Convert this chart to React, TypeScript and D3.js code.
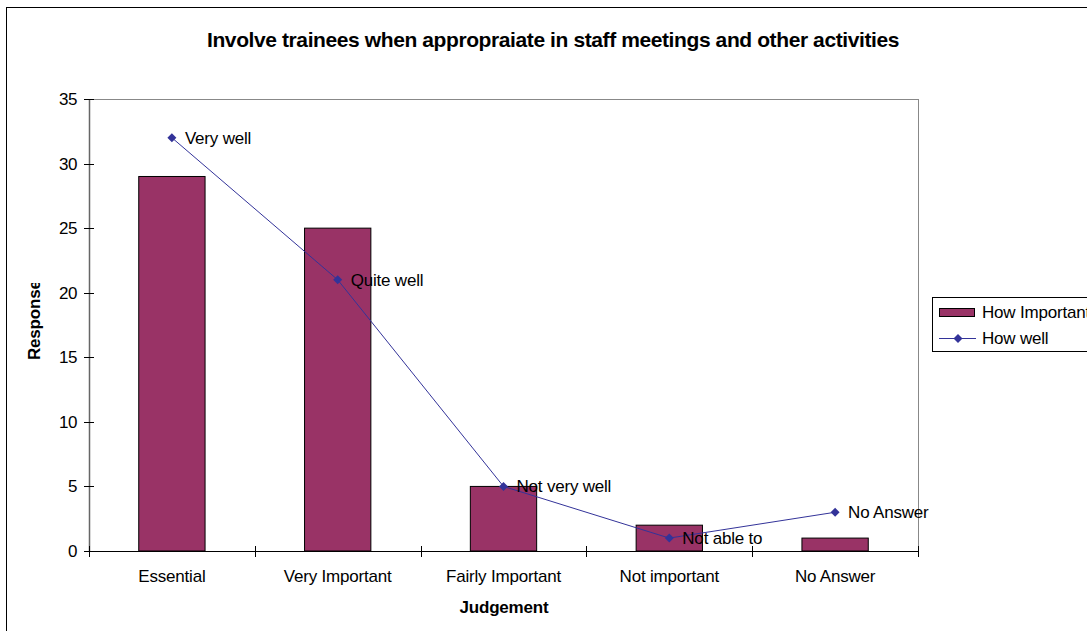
import React from "react";
import * as d3 from "d3";

const categories = ["Essential", "Very Important", "Fairly Important", "Not important", "No Answer"];
const howImportant = [29, 25, 5, 2, 1];
const howWell = [32, 21, 5, 1, 3];
const pointLabels = ["Very well", "Quite well", "Not very well", "Not able to", "No Answer"];
const yTicks = [0, 5, 10, 15, 20, 25, 30, 35];

const W = 1087;
const H = 631;
const plot = { left: 89, right: 918, top: 99, bottom: 551 };
const FONT = "Liberation Sans, Arial, sans-serif";

export default function App() {
  const x = d3.scaleBand<string>().domain(categories).range([plot.left, plot.right]).paddingInner(0).paddingOuter(0);
  const y = d3.scaleLinear().domain([0, 35]).range([plot.bottom, plot.top]);
  const bw = x.bandwidth() * 0.4;
  const cx = (c: string) => (x(c) as number) + x.bandwidth() / 2;
  const line = d3.line<number>().x((_, i) => cx(categories[i])).y((d) => y(d));
  const diamond = "M0,-4.5L4.5,0L0,4.5L-4.5,0Z";
  const catEdges = categories.map((c) => x(c) as number).concat([plot.right]);

  return (
    <svg width={W} height={H} style={{ position: "absolute", left: 0, top: 0, background: "#fff" }} fontFamily={FONT}>
      <rect x={6.5} y={7.5} width={W + 10} height={H + 10} fill="#fff" stroke="#000" strokeWidth={1} />
      <text x={553} y={47} textAnchor="middle" fontSize={21} fontWeight="bold" letterSpacing={-0.4}>
        Involve trainees when appropraiate in staff meetings and other activities
      </text>
      {/* plot frame */}
      <line x1={plot.left} x2={plot.right} y1={plot.top + 0.5} y2={plot.top + 0.5} stroke="#888" />
      <line x1={plot.right + 0.5} x2={plot.right + 0.5} y1={plot.top} y2={plot.bottom} stroke="#888" />
      {/* y axis */}
      <line x1={plot.left + 0.5} x2={plot.left + 0.5} y1={plot.top} y2={plot.bottom} stroke="#666" strokeWidth={1.5} />
      {yTicks.map((t) => (
        <g key={t}>
          <line x1={plot.left - 5} x2={plot.left + 5} y1={Math.round(y(t)) + 0.5} y2={Math.round(y(t)) + 0.5} stroke="#000" />
          <text x={plot.left - 12} y={y(t)} dy="0.35em" textAnchor="end" fontSize={17} letterSpacing={-0.5}>
            {t}
          </text>
        </g>
      ))}
      {/* bars */}
      {howImportant.map((v, i) => (
        <rect
          key={i}
          x={cx(categories[i]) - bw / 2}
          y={y(v)}
          width={bw}
          height={y(0) - y(v)}
          fill="#993366"
          stroke="#000"
          strokeWidth={1}
        />
      ))}
      {/* x axis */}
      <line x1={plot.left} x2={plot.right} y1={plot.bottom + 0.5} y2={plot.bottom + 0.5} stroke="#000" />
      {catEdges.map((e, i) => (
        <line key={i} x1={Math.round(e) + 0.5} x2={Math.round(e) + 0.5} y1={plot.bottom - 5} y2={plot.bottom + 6} stroke="#000" />
      ))}
      {categories.map((c) => (
        <text key={c} x={cx(c)} y={582} textAnchor="middle" fontSize={17} letterSpacing={-0.2}>
          {c}
        </text>
      ))}
      {/* line series */}
      <path d={line(howWell) as string} fill="none" stroke="#333399" strokeWidth={1} />
      {howWell.map((v, i) => (
        <g key={i}>
          <path d={diamond} transform={`translate(${cx(categories[i])},${y(v)})`} fill="#333399" />
          <text x={cx(categories[i]) + 13} y={y(v)} dy="0.35em" fontSize={17} letterSpacing={-0.2}>
            {pointLabels[i]}
          </text>
        </g>
      ))}
      {/* axis titles */}
      <text x={504} y={613} textAnchor="middle" fontSize={17} fontWeight="bold" letterSpacing={-0.2}>
        Judgement
      </text>
      <defs>
        <clipPath id="yclip">
          <rect x={15} y={283} width={35} height={90} />
        </clipPath>
      </defs>
      <g clipPath="url(#yclip)">
        <text transform="translate(40,360) rotate(-90)" textAnchor="start" fontSize={17} fontWeight="bold" letterSpacing={-0.2}>
          Responses
        </text>
      </g>
      {/* legend */}
      <rect x={932.5} y={297.5} width={170} height={54} fill="#fff" stroke="#000" />
      <rect x={939.5} y={308.5} width={35} height={8} fill="#993366" stroke="#000" />
      <text x={982} y={312} dy="0.35em" fontSize={17} letterSpacing={-0.2}>
        How Important
      </text>
      <line x1={939} x2={976} y1={338.5} y2={338.5} stroke="#333399" />
      <path d={diamond} transform="translate(958,338.5)" fill="#333399" />
      <text x={982} y={338} dy="0.35em" fontSize={17} letterSpacing={-0.2}>
        How well
      </text>
    </svg>
  );
}
